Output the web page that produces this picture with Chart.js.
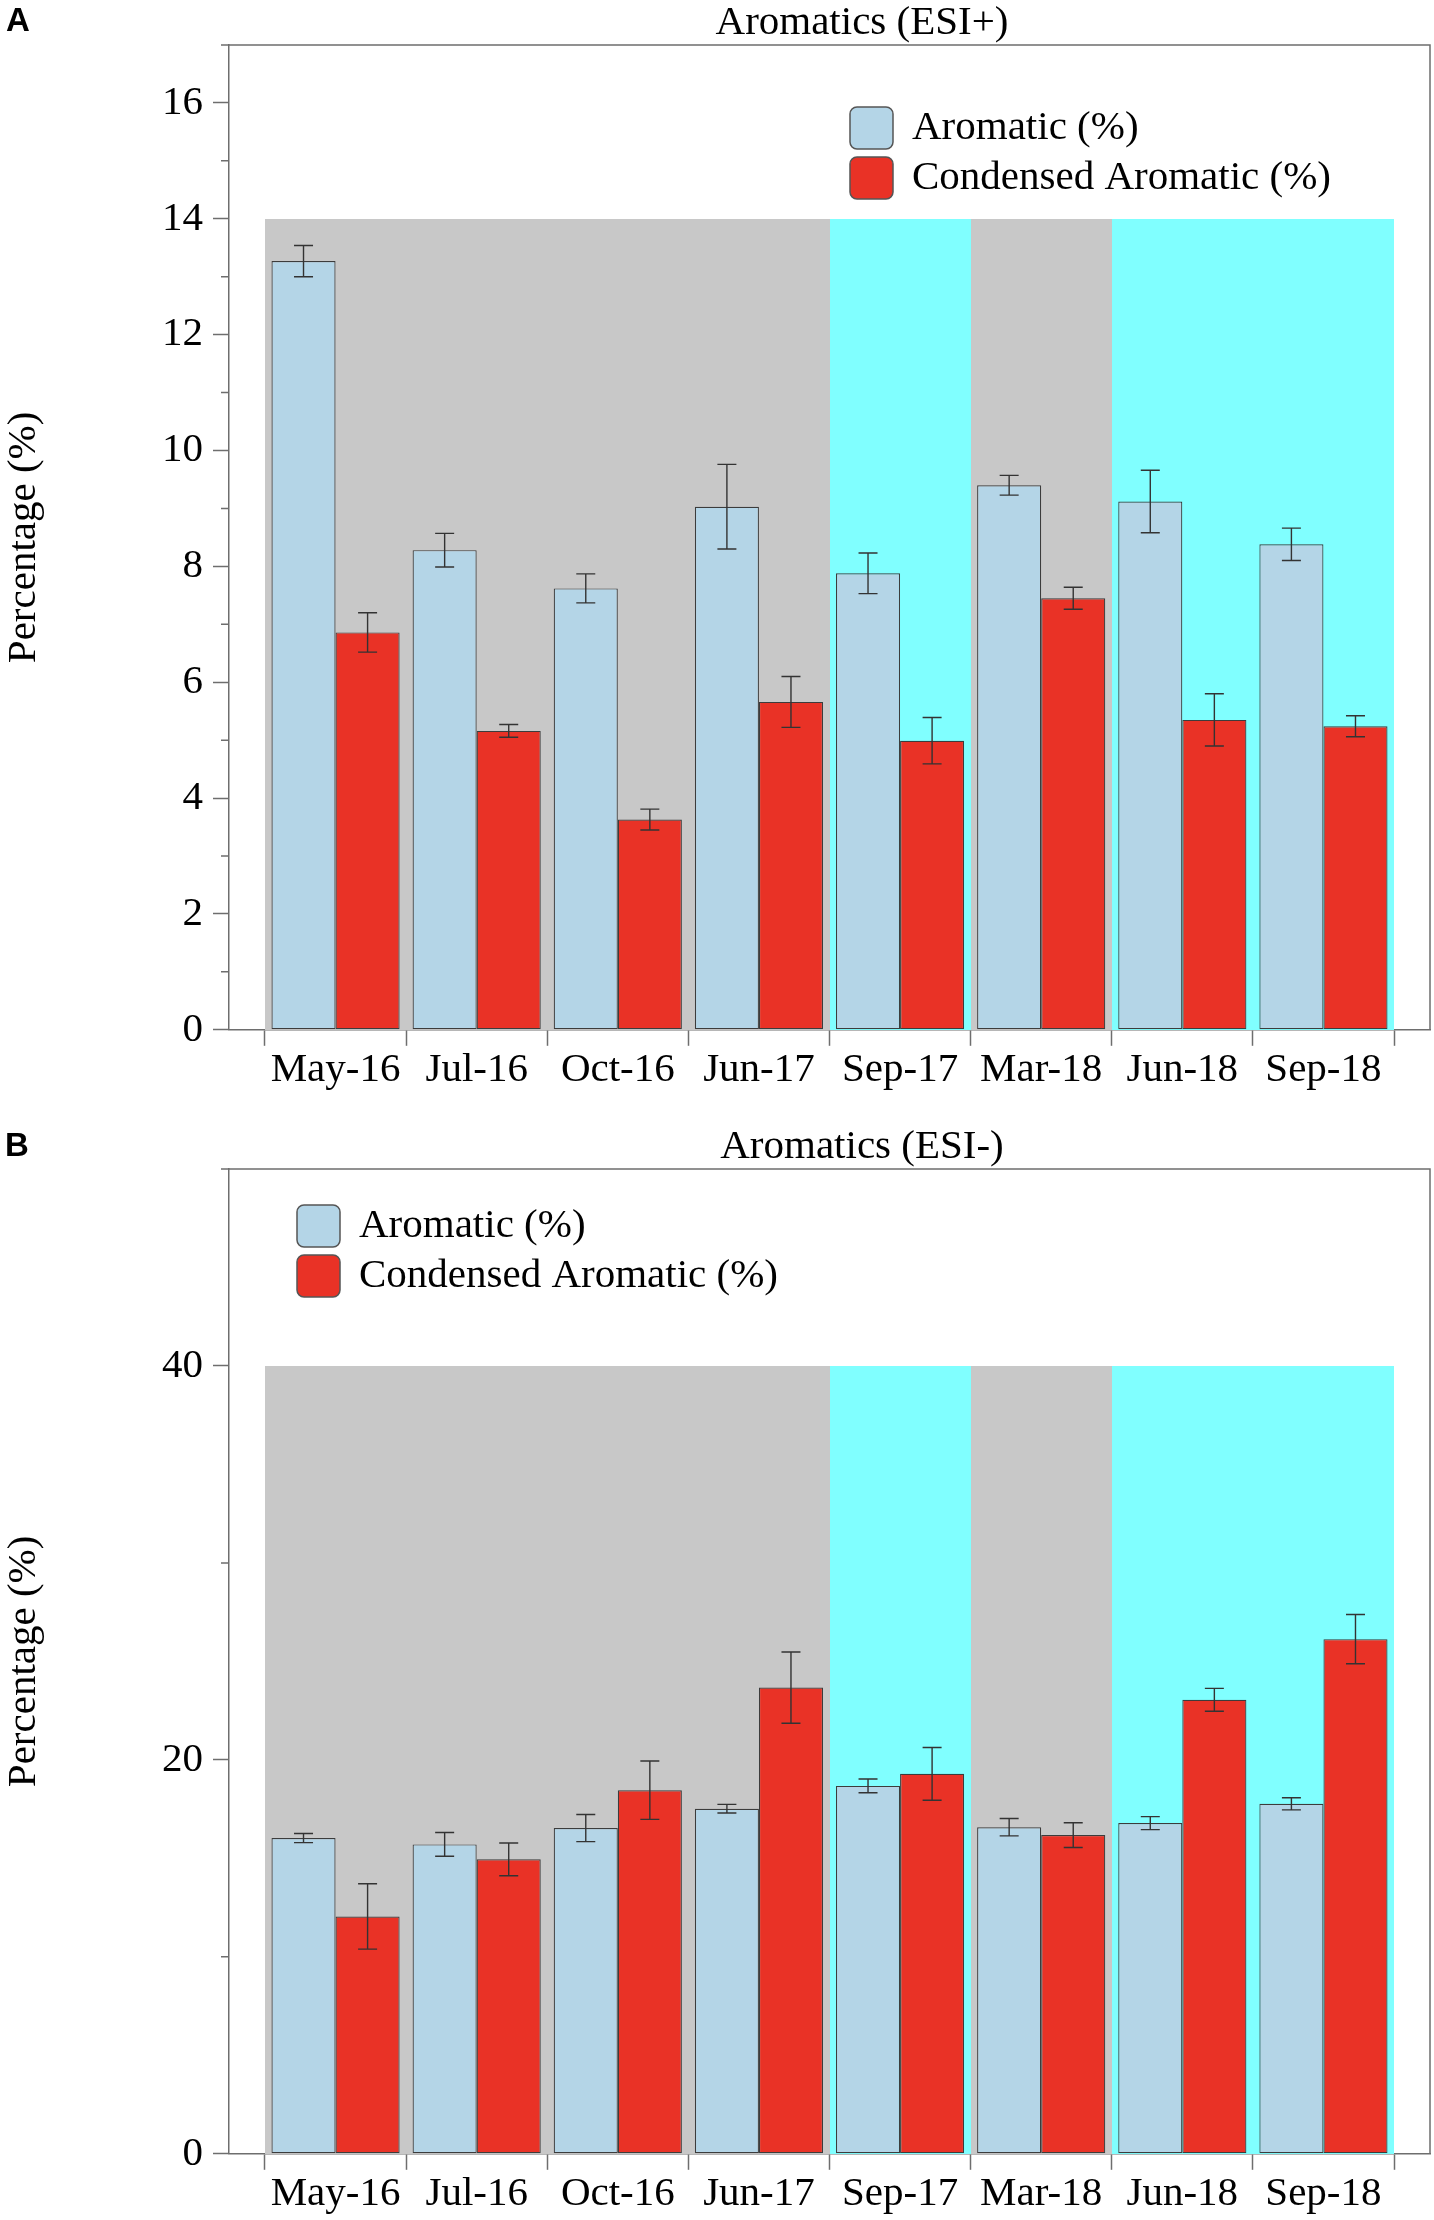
<!DOCTYPE html>
<html>
<head>
<meta charset="utf-8">
<script src="https://cdn.jsdelivr.net/npm/chart.js@4.4.1/dist/chart.umd.min.js"></script>
<style>
  html, body { margin: 0; padding: 0; background: #fff; overflow: hidden; }
  body { width: 1434px; height: 2220px; position: relative; }
  .panel { position: absolute; left: 0; width: 1434px; height: 1110px; }
  .tag { position: absolute; font: bold 33px "Liberation Sans", Arial, sans-serif; line-height: 1; color: #000; }
</style>
</head>
<body>
<div class="panel" style="top:0"><canvas id="chartA" width="1434" height="1110"></canvas></div>
<div class="panel" style="top:1124px"><canvas id="chartB" width="1434" height="1110"></canvas></div>
<div class="tag" style="left:6px;top:3px">A</div>
<div class="tag" style="left:5px;top:1128px">B</div>
<script>
// sampling campaigns
const months = ['May-16', 'Jul-16', 'Oct-16', 'Jun-17', 'Sep-17', 'Mar-18', 'Jun-18', 'Sep-18'];
// background band of each campaign (g = grey, c = cyan)
const periods = ['g', 'g', 'g', 'g', 'c', 'g', 'c', 'c'];
const seriesNames = ['Aromatic (%)', 'Condensed Aromatic (%)'];

// panel A - ESI+
const aromPos = [13.27, 8.28, 7.62, 9.03, 7.88, 9.40, 9.12, 8.38];
const aromPosErr = [0.27, 0.29, 0.25, 0.73, 0.35, 0.17, 0.54, 0.28];
const condPos = [6.86, 5.16, 3.63, 5.66, 4.99, 7.45, 5.35, 5.24];
const condPosErr = [0.34, 0.11, 0.18, 0.44, 0.40, 0.19, 0.45, 0.18];
const yTicksPos = [0, 2, 4, 6, 8, 10, 12, 14, 16];
const yMinorPos = [1, 3, 5, 7, 9, 11, 13, 15, 17];

// panel B - ESI-
const aromNeg = [16.03, 15.71, 16.54, 17.52, 18.68, 16.58, 16.79, 17.77];
const aromNegErr = [0.23, 0.60, 0.69, 0.22, 0.35, 0.44, 0.33, 0.31];
const condNeg = [12.05, 14.95, 18.46, 23.67, 19.29, 16.18, 23.05, 26.13];
const condNegErr = [1.66, 0.83, 1.48, 1.81, 1.34, 0.63, 0.58, 1.25];
const yTicksNeg = [0, 20, 40];
const yMinorNeg = [10, 30, 50];

const SERIF = '"Liberation Serif", "Times New Roman", serif';
const BLUE = '#b4d5e7';
const RED = '#e93226';
const EDGE = '#3c3c3c';
const AXIS = '#6e6e6e';
const bandColors = { g: '#c8c8c8', c: '#80ffff' };
const xPad = 0.255;

// bands, error bars, minor ticks, frame, legend
const extras = {
    id: 'extras',
    afterLayout(chart, args, o) {
        const t = chart.titleBlock;
        if (t && o.titleX) {
            const dx = o.titleX - (t.left + t.right) / 2;
            t.left += dx;
            t.right += dx;
        }
    },
    beforeDatasetsDraw(chart, args, o) {
        const { ctx, scales: { x, y } } = chart;
        ctx.save();
        months.forEach((m, i) => {
            // whole pixels so neighbouring bands leave no seam
            const x0 = Math.round(x.getPixelForValue(i - 0.5)), x1 = Math.round(x.getPixelForValue(i + 0.5));
            const y0 = Math.round(y.getPixelForValue(o.bandTop)), y1 = Math.round(y.getPixelForValue(0));
            ctx.fillStyle = bandColors[periods[i]];
            ctx.fillRect(x0, y0, x1 - x0, y1 - y0);
        });
        ctx.restore();
    },
    afterDatasetsDraw(chart, args, o) {
        const { ctx, scales: { y } } = chart;
        ctx.save();
        ctx.strokeStyle = '#333';
        ctx.lineWidth = 1.4;
        chart.data.datasets.forEach((ds, d) => {
            chart.getDatasetMeta(d).data.forEach((bar, i) => {
                const v = ds.data[i].y, e = o.errors[d][i];
                const top = y.getPixelForValue(v + e), bot = y.getPixelForValue(v - e);
                ctx.beginPath();
                ctx.moveTo(bar.x, top); ctx.lineTo(bar.x, bot);
                ctx.moveTo(bar.x - 9.5, top); ctx.lineTo(bar.x + 9.5, top);
                ctx.moveTo(bar.x - 9.5, bot); ctx.lineTo(bar.x + 9.5, bot);
                ctx.stroke();
            });
        });
        ctx.restore();
    },
    afterDraw(chart, args, o) {
        const { ctx, chartArea: a, scales: { y } } = chart;
        ctx.save();
        ctx.strokeStyle = AXIS;
        ctx.lineWidth = 1.5;
        ctx.beginPath();
        o.minor.forEach(v => {
            const py = y.getPixelForValue(v);
            ctx.moveTo(a.left - 8, py); ctx.lineTo(a.left, py);
        });
        ctx.moveTo(a.left, a.top); ctx.lineTo(a.right, a.top); ctx.lineTo(a.right, a.bottom);
        ctx.stroke();

        // legend
        ctx.font = '41px ' + SERIF;
        ctx.textBaseline = 'middle';
        chart.data.datasets.forEach((ds, d) => {
            const bx = o.legendX, by = o.legendY + d * 50;
            ctx.beginPath();
            ctx.roundRect(bx, by, 43, 42, 7);
            ctx.fillStyle = ds.backgroundColor;
            ctx.fill();
            ctx.strokeStyle = '#555';
            ctx.lineWidth = 1.5;
            ctx.stroke();
            ctx.fillStyle = '#000';
            ctx.fillText(ds.label, bx + 62, by + 21);
        });
        ctx.restore();
    }
};

function makeChart(id, title, arom, aromErr, cond, condErr, yMax, yTicks, yMinor, bandTop, legendX, legendY) {
    const bar = (label, values, color) => ({
        label: label,
        data: values.map((v, i) => ({ x: i, y: v })),
        backgroundColor: color,
        borderColor: EDGE,
        borderWidth: 1.2,
        borderSkipped: false,
        categoryPercentage: 0.908,
        barPercentage: 1,
        xAxisID: 'x',
        yAxisID: 'y'
    });

    return new Chart(document.getElementById(id), {
        type: 'bar',
        data: {
            datasets: [
                bar(seriesNames[0], arom, BLUE),
                bar(seriesNames[1], cond, RED)
            ]
        },
        options: {
            responsive: false,
            animation: false,
            events: [],
            layout: { padding: { left: 0, right: 4, top: 0, bottom: 15 } },
            scales: {
                x: {
                    type: 'linear', axis: 'x', position: 'bottom', weight: 1,
                    min: -0.5 - xPad, max: months.length - 0.5 + xPad, offset: false,
                    afterBuildTicks: s => { s.ticks = months.map((m, i) => ({ value: i })); },
                    grid: { display: false, drawTicks: false, drawOnChartArea: false, offset: false },
                    border: { display: false },
                    ticks: {
                        autoSkip: false, maxRotation: 0, padding: 0, color: '#000',
                        font: { family: SERIF, size: 41 },
                        callback: v => months[v]
                    }
                },
                xb: {
                    type: 'linear', axis: 'x', position: 'bottom', weight: 0,
                    min: -0.5 - xPad, max: months.length - 0.5 + xPad, offset: false,
                    afterBuildTicks: s => {
                        s.ticks = Array.from({ length: months.length + 1 }, (_, i) => ({ value: i - 0.5 }));
                    },
                    grid: { drawOnChartArea: false, drawTicks: true, tickLength: 16, tickColor: AXIS, tickWidth: 1.5, offset: false },
                    border: { display: true, color: AXIS, width: 1.5 },
                    ticks: { display: false }
                },
                y: {
                    type: 'linear', position: 'left', min: 0, max: yMax,
                    afterBuildTicks: s => { s.ticks = yTicks.map(v => ({ value: v })); },
                    afterFit: s => { s.width = 229; },
                    grid: { drawOnChartArea: false, drawTicks: true, tickLength: 16, tickColor: AXIS, tickWidth: 1.5 },
                    border: { display: true, color: AXIS, width: 1.5 },
                    ticks: { padding: 10, color: '#000', font: { family: SERIF, size: 41 } },
                    title: {
                        display: true, text: 'Percentage (%)', color: '#000', padding: 0,
                        font: { family: SERIF, size: 41 }
                    }
                }
            },
            plugins: {
                legend: { display: false },
                tooltip: { enabled: false },
                title: {
                    display: true, text: title, color: '#000',
                    font: { family: SERIF, size: 41, weight: 'normal', lineHeight: 1 },
                    padding: { top: 3, bottom: 1 }
                },
                extras: {
                    titleX: 862,
                    bandTop: bandTop,
                    errors: [aromErr, condErr],
                    minor: yMinor,
                    legendX: legendX,
                    legendY: legendY
                }
            }
        },
        plugins: [extras]
    });
}

makeChart('chartA', 'Aromatics (ESI+)', aromPos, aromPosErr, condPos, condPosErr, 17, yTicksPos, yMinorPos, 14, 850, 107);
makeChart('chartB', 'Aromatics (ESI-)', aromNeg, aromNegErr, condNeg, condNegErr, 50, yTicksNeg, yMinorNeg, 40, 297, 81);
</script>
</body>
</html>
